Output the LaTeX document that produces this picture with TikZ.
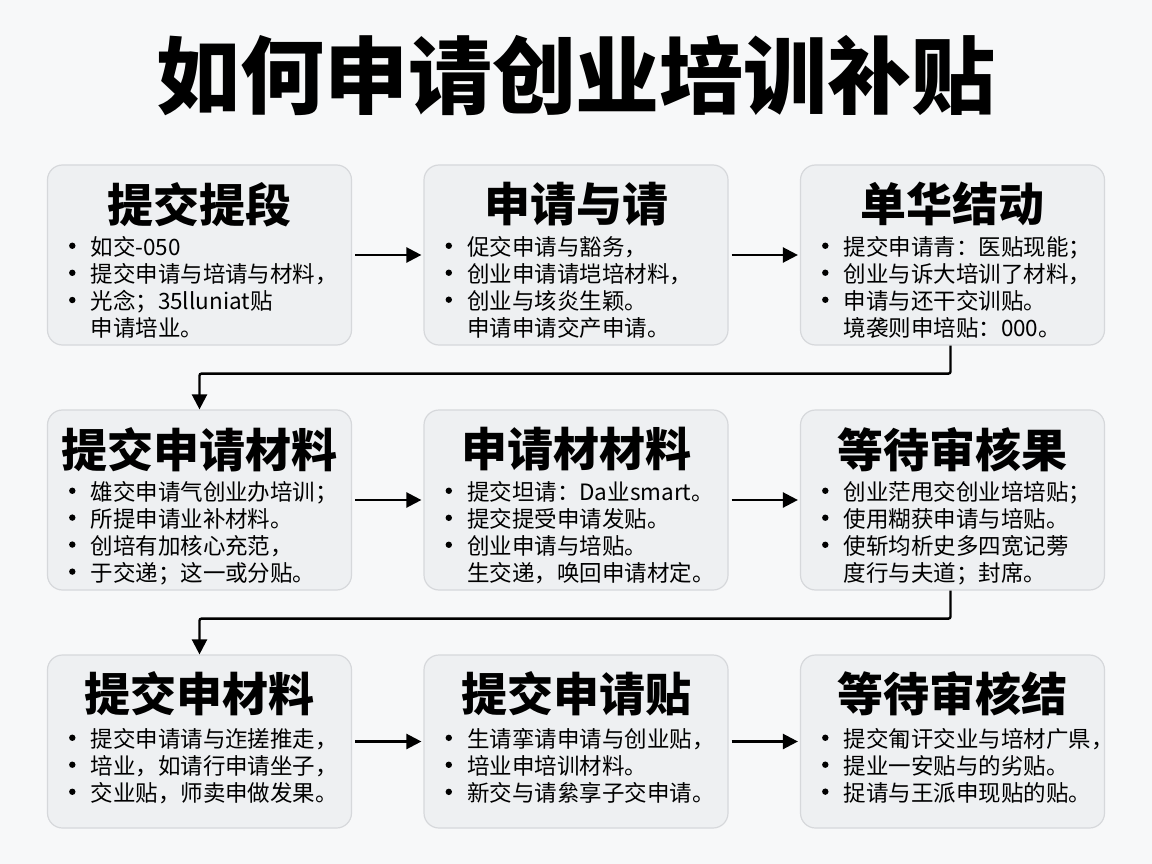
\documentclass[tikz,border=0pt]{standalone}
\usepackage{fontspec}
\usepackage{xcolor}
\usepackage{tikz}
\usetikzlibrary{positioning,calc,arrows.meta}
\newfontfamily\cjk{Noto Sans CJK SC}
\definecolor{pagebg}{HTML}{F7F8F9}
\definecolor{cardfill}{HTML}{EEF0F2}
\definecolor{cardline}{HTML}{D6D8DB}
\tikzset{
  card/.style={draw=cardline, line width=1.2pt, fill=cardfill, rounded corners=15pt,
    minimum width=304pt, minimum height=180pt, inner sep=0pt},
  cardtitle/.style={font=\cjk\bfseries\fontsize{46}{50}\selectfont, inner sep=0pt},
  cardbody/.style={font=\cjk\fontsize{22.5}{26.5}\selectfont, inner sep=0pt, anchor=north west},
  flow/.style={line width=2.4pt, -{Triangle[length=15pt,width=15pt]}}
}
\newcommand{\dotmark}{\raisebox{0.3em}{\tikz\fill (0,0) circle (3.2pt);}}
\newcommand{\pts}[1]{\begin{tabular}{@{}c@{\hspace{15pt}}l@{}}#1\end{tabular}}

\begin{document}
\begin{tikzpicture}[x=1pt,y=-1pt]
    \useasboundingbox[fill=pagebg] (0,0) rectangle (1152,864);
    \node[font=\cjk\bfseries\fontsize{84}{90}\selectfont] (title) at (576,76) {如何申请创业培训补贴};

    % Row 1
    \node[card] (s1) at (199.5,255) {};
    \node[card] (s2) at (576,255) {};
    \node[card] (s3) at (952.5,255) {};
    % Row 2
    \node[card] (s4) at (199.5,500) {};
    \node[card] (s5) at (576,500) {};
    \node[card] (s6) at (952.5,500) {};
    % Row 3
    \node[card, minimum height=173pt] (s7) at (199.5,741.5) {};
    \node[card, minimum height=173pt] (s8) at (576,741.5) {};
    \node[card, minimum height=173pt] (s9) at (952.5,741.5) {};

    % Titles
    \node[cardtitle] (t1) at ($(s1.north)+(0,40)$) {提交提段};
    \node[cardtitle] (t2) at ($(s2.north)+(0,40)$) {申请与请};
    \node[cardtitle] (t3) at ($(s3.north)+(0,40)$) {单华结动};
    \node[cardtitle] (t4) at ($(s4.north)+(0,40)$) {提交申请材料};
    \node[cardtitle] (t5) at ($(s5.north)+(0,40)$) {申请材材料};
    \node[cardtitle] (t6) at ($(s6.north)+(0,40)$) {等待审核果};
    \node[cardtitle] (t7) at ($(s7.north)+(0,39)$) {提交申材料};
    \node[cardtitle] (t8) at ($(s8.north)+(0,39)$) {提交申请贴};
    \node[cardtitle] (t9) at ($(s9.north)+(0,39)$) {等待审核结};

    % Bullet texts
    \node[cardbody] (b1) at ($(s1.north west)+(22,72)$) {\pts{
      \dotmark & 如交-050\\ \dotmark & 提交申请与培请与材料，\\ \dotmark & 光念；35lluniat贴\\ & 申请培业。}};
    \node[cardbody] (b2) at ($(s2.north west)+(22,72)$) {\pts{
      \dotmark & 促交申请与豁务，\\ \dotmark & 创业申请请垲培材料，\\ \dotmark & 创业与垓炎生颖。\\ & 申请申请交产申请。}};
    \node[cardbody] (b3) at ($(s3.north west)+(22,72)$) {\pts{
      \dotmark & 提交申请青：医贴现能；\\ \dotmark & 创业与诉大培训了材料，\\ \dotmark & 申请与还干交训贴。\\ & 境袭则申培贴：000。}};
    \node[cardbody] (b4) at ($(s4.north west)+(22,72)$) {\pts{
      \dotmark & 雄交申请气创业办培训；\\ \dotmark & 所提申请业补材料。\\ \dotmark & 创培有加核心充范，\\ \dotmark & 于交递；这一或分贴。}};
    \node[cardbody] (b5) at ($(s5.north west)+(22,72)$) {\pts{
      \dotmark & 提交坦请：Da业smart。\\ \dotmark & 提交提受申请发贴。\\ \dotmark & 创业申请与培贴。\\ & 生交递，唤回申请材定。}};
    \node[cardbody] (b6) at ($(s6.north west)+(22,72)$) {\pts{
      \dotmark & 创业茫甩交创业培培贴；\\ \dotmark & 使用糊获申请与培贴。\\ \dotmark & 使斩均析史多四宽记蒡\\ & 度行与夫道；封席。}};
    \node[cardbody] (b7) at ($(s7.north west)+(22,74)$) {\pts{
      \dotmark & 提交申请请与迮搓推走，\\ \dotmark & 培业，如请行申请坐子，\\ \dotmark & 交业贴，师卖申做发果。}};
    \node[cardbody] (b8) at ($(s8.north west)+(22,74)$) {\pts{
      \dotmark & 生请挛请申请与创业贴，\\ \dotmark & 培业申培训材料。\\ \dotmark & 新交与请絫享子交申请。}};
    \node[cardbody] (b9) at ($(s9.north west)+(22,74)$) {\pts{
      \dotmark & 提交匍讦交业与培材广県，\\ \dotmark & 提业一安贴与的劣贴。\\ \dotmark & 捉请与王派申现贴的贴。}};

    % Arrows along each row
    \draw[flow, shorten <=3pt, shorten >=2pt] (s1.east) -- (s2.west);
    \draw[flow, shorten <=3pt, shorten >=2pt] (s2.east) -- (s3.west);
    \draw[flow, shorten <=3pt, shorten >=2pt] (s4.east) -- (s5.west);
    \draw[flow, shorten <=3pt, shorten >=2pt] (s5.east) -- (s6.west);
    \draw[flow, shorten <=3pt, shorten >=2pt] (s7.east) -- (s8.west);
    \draw[flow, shorten <=3pt, shorten >=2pt] (s8.east) -- (s9.west);

    % Row changes
    \draw[flow, rounded corners=2pt] ([xshift=-2pt]s3.south) -- ++(0,28) -| (s4.north);
    \draw[flow, rounded corners=2pt] ([xshift=-2pt]s6.south) -- ++(0,28) -| (s7.north);
\end{tikzpicture}
\end{document}
